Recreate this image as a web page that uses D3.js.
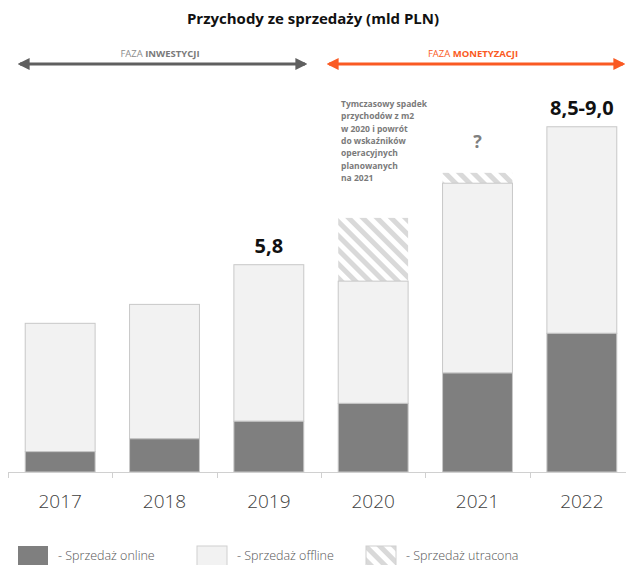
<!DOCTYPE html>
<html>
<head>
<meta charset="utf-8">
<title>Przychody ze sprzedaży</title>
<script src="https://d3js.org/d3.v7.min.js"></script>
<style>
    body {
        margin: 0;
        font-family: 'Open Sans', sans-serif;
        background: #fff;
    }
    .yearLabel {
        font-size: 19px;
        font-weight: 300;
        fill: #404040;
    }
    .legendText {
        font-size: 12.5px;
        font-weight: 300;
        fill: #555;
    }
</style>
</head>
<body>
<svg id="chart" width="626" height="565"></svg>
<script>
    // data (mld PLN)
    const years = ["2017", "2018", "2019", "2020", "2021", "2022"];
    const online = [0.57, 0.93, 1.42, 1.92, 2.77, 3.88];
    const offline = [3.59, 3.76, 4.38, 3.42, 5.31, 5.78];
    const lost = [0, 0, 0, 1.77, 0.29, 0];
    const topLabels = ["", "", "5,8", "", "?", "8,5-9,0"];
    const noteLines = ["Tymczasowy spadek", "przychodów z m2", "w 2020 i powrót",
        "do wskaźników", "operacyjnych", "planowanych", "na 2021"];

    var svg = d3.select("#chart");
    const baseY = 472;

    var x = d3.scaleBand().domain(years).range([8, 634]).paddingInner(0.33).paddingOuter(0.165);
    var y = d3.scaleLinear().domain([0, 10]).range([baseY, baseY - 357.4]);

    var defs = svg.append("defs");
    var pat = defs.append("pattern")
        .attr("id", "hatch")
        .attr("patternUnits", "userSpaceOnUse")
        .attr("width", 10).attr("height", 10)
        .attr("patternTransform", "rotate(-45)");
    pat.append("rect").attr("width", 10).attr("height", 10).attr("fill", "#fff");
    pat.append("rect").attr("width", 5).attr("height", 10).attr("fill", "#d9d9d9");

    // arrow markers
    [["gray", "#5f5f5f"], ["orange", "#fa5a23"]].forEach(function(m) {
        defs.append("marker")
            .attr("id", "arrow-" + m[0])
            .attr("viewBox", "0 0 10 10")
            .attr("refX", 8).attr("refY", 5)
            .attr("markerWidth", 4).attr("markerHeight", 4)
            .attr("orient", "auto-start-reverse")
            .append("path")
            .attr("d", "M0,0 L10,5 L0,10 Z")
            .attr("fill", m[1]);
    });

    // title
    svg.append("text")
        .attr("x", 313).attr("y", 24)
        .attr("text-anchor", "middle")
        .style("font-size", "15px").style("font-weight", 700).style("fill", "#111")
        .text("Przychody ze sprzedaży (mld PLN)");

    // phase arrows
    svg.append("line")
        .attr("x1", 20).attr("x2", 305).attr("y1", 64).attr("y2", 64)
        .attr("stroke", "#5f5f5f").attr("stroke-width", 3)
        .attr("marker-start", "url(#arrow-gray)").attr("marker-end", "url(#arrow-gray)");
    svg.append("line")
        .attr("x1", 329).attr("x2", 623).attr("y1", 64).attr("y2", 64)
        .attr("stroke", "#fa5a23").attr("stroke-width", 3)
        .attr("marker-start", "url(#arrow-orange)").attr("marker-end", "url(#arrow-orange)");

    var t1 = svg.append("text").attr("x", 160).attr("y", 57).attr("text-anchor", "middle")
        .style("font-size", "9.5px").style("fill", "#8c8c8c");
    t1.append("tspan").text("FAZA ");
    t1.append("tspan").style("font-weight", 700).style("fill", "#7a7a7a").text("INWESTYCJI");
    var t2 = svg.append("text").attr("x", 473).attr("y", 57).attr("text-anchor", "middle")
        .style("font-size", "9.5px").style("fill", "#fa5a23");
    t2.append("tspan").text("FAZA ");
    t2.append("tspan").style("font-weight", 700).text("MONETYZACJI");

    // bars
    var bars = svg.append("g");
    years.forEach(function(yr, i) {
        var bx = x(yr), bw = x.bandwidth();
        var total = online[i] + offline[i];
        if (lost[i] > 0) {
            bars.append("rect")
                .attr("x", bx).attr("width", bw)
                .attr("y", y(total + lost[i]))
                .attr("height", y(total) - y(total + lost[i]))
                .attr("fill", "url(#hatch)");
        }
        bars.append("rect")
            .attr("x", bx).attr("width", bw)
            .attr("y", y(total))
            .attr("height", y(online[i]) - y(total))
            .attr("fill", "#f2f2f2").attr("stroke", "#c8c8c8").attr("stroke-width", 1);
        bars.append("rect")
            .attr("x", bx).attr("width", bw)
            .attr("y", y(online[i]))
            .attr("height", y(0) - y(online[i]))
            .attr("fill", "#7f7f7f").attr("stroke", "#c8c8c8").attr("stroke-width", 1);

        if (topLabels[i] !== "") {
            var isQ = topLabels[i] === "?";
            svg.append("text")
                .attr("x", bx + bw / 2)
                .attr("y", isQ ? 148 : y(total + lost[i]) - 12)
                .attr("text-anchor", "middle")
                .style("font-size", isQ ? "18px" : "20px")
                .style("font-weight", 700)
                .style("fill", isQ ? "#7f7f7f" : "#111")
                .text(topLabels[i]);
        }
    });

    // note
    var note = svg.append("text").attr("x", 341).attr("y", 107)
        .style("font-size", "8.5px").style("font-weight", 700).style("fill", "#7a7a7a");
    noteLines.forEach(function(l, i) {
        note.append("tspan").attr("x", 341).attr("dy", i === 0 ? 0 : 12.3).text(l);
    });

    // axis
    var axis = svg.append("g");
    axis.append("line")
        .attr("x1", 8).attr("x2", 626).attr("y1", baseY + 0.5).attr("y2", baseY + 0.5)
        .attr("stroke", "#d0d0d0").attr("stroke-width", 1);
    years.forEach(function(yr) {
        var sx = Math.round(x(yr) - x.step() * x.paddingInner() / 2) + 0.5;
        axis.append("line")
            .attr("x1", sx).attr("x2", sx).attr("y1", baseY).attr("y2", baseY + 6)
            .attr("stroke", "#d0d0d0");
        axis.append("text")
            .attr("class", "yearLabel")
            .attr("x", x(yr) + x.bandwidth() / 2).attr("y", 508)
            .attr("text-anchor", "middle")
            .text(yr);
    });

    // legend
    const legendItems = [
        { label: "- Sprzedaż online", fill: "#7f7f7f" },
        { label: "- Sprzedaż offline", fill: "#f2f2f2" },
        { label: "- Sprzedaż utracona", fill: "url(#hatch)" }
    ];
    const legendX = [18, 197, 366];
    var legend = svg.append("g");
    legendItems.forEach(function(d, i) {
        legend.append("rect")
            .attr("x", legendX[i]).attr("y", 546).attr("width", 30).attr("height", 22)
            .attr("fill", d.fill)
            .attr("stroke", i === 0 ? "none" : "#d0d0d0");
        legend.append("text")
            .attr("class", "legendText")
            .attr("x", legendX[i] + 40).attr("y", 560)
            .text(d.label);
    });
</script>
</body>
</html>
